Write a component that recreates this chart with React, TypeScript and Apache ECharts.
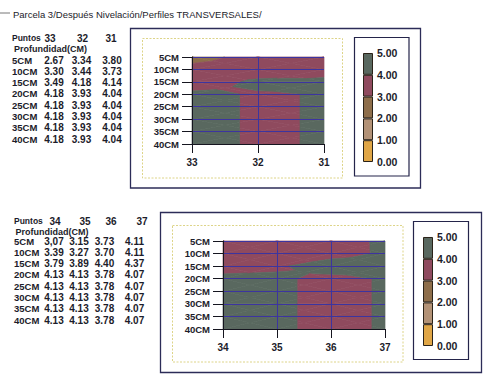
import React, { useEffect, useRef } from 'react';
import * as echarts from 'echarts';

const TITLE = 'Parcela 3/Después Nivelación/Perfiles TRANSVERSALES/';
const DEPTHS = [5, 10, 15, 20, 25, 30, 35, 40];
const TOP_POINTS = [33, 32, 31];
const TOP_VALUES = [
  [2.67, 3.34, 3.8],
  [3.3, 3.44, 3.73],
  [3.49, 4.18, 4.14],
  [4.18, 3.93, 4.04],
  [4.18, 3.93, 4.04],
  [4.18, 3.93, 4.04],
  [4.18, 3.93, 4.04],
  [4.18, 3.93, 4.04],
];
const BOTTOM_POINTS = [34, 35, 36, 37];
const BOTTOM_VALUES = [
  [3.07, 3.15, 3.73, 4.11],
  [3.39, 3.27, 3.7, 4.11],
  [3.79, 3.89, 4.4, 4.37],
  [4.13, 4.13, 3.78, 4.07],
  [4.13, 4.13, 3.78, 4.07],
  [4.13, 4.13, 3.78, 4.07],
  [4.13, 4.13, 3.78, 4.07],
  [4.13, 4.13, 3.78, 4.07],
];
const LEVELS = [0, 1, 2, 3, 4, 5];
const BAND_COLORS = ['#e0a646', '#b39276', '#8e6e4a', '#8f4a5e', '#59685f'];

const INK = '#1c1c2a';
const FONT = '"Liberation Sans", Arial, sans-serif';

type V = [number, number, number];

function clip(poly: V[], f: (v: number) => number): V[] {
  const out: V[] = [];
  for (let i = 0; i < poly.length; i++) {
    const a = poly[i];
    const b = poly[(i + 1) % poly.length];
    const fa = f(a[2]);
    const fb = f(b[2]);
    if (fa >= 0) out.push(a);
    if ((fa >= 0) !== (fb >= 0)) {
      const t = fa / (fa - fb);
      out.push([a[0] + (b[0] - a[0]) * t, a[1] + (b[1] - a[1]) * t, a[2] + (b[2] - a[2]) * t]);
    }
  }
  return out;
}

function buildCells(points: number[], values: number[][]) {
  const cells: number[][] = [];
  for (let j = 0; j < DEPTHS.length - 1; j++) {
    for (let i = 0; i < points.length - 1; i++) {
      cells.push([
        points[i], points[i + 1], DEPTHS[j], DEPTHS[j + 1],
        values[j][i], values[j][i + 1], values[j + 1][i], values[j + 1][i + 1],
      ]);
    }
  }
  return cells;
}

const renderCell = (_params: any, api: any) => {
  const x0 = api.value(0), x1 = api.value(1), y0 = api.value(2), y1 = api.value(3);
  const v00 = api.value(4), v10 = api.value(5), v01 = api.value(6), v11 = api.value(7);
  const p00 = api.coord([x0, y0]);
  const p10 = api.coord([x1, y0]);
  const p01 = api.coord([x0, y1]);
  const p11 = api.coord([x1, y1]);
  const A: V = [p00[0], p00[1], v00];
  const B: V = [p10[0], p10[1], v10];
  const D: V = [p11[0], p11[1], v11];
  const E: V = [p01[0], p01[1], v01];
  const C: V = [
    (A[0] + B[0] + D[0] + E[0]) / 4,
    (A[1] + B[1] + D[1] + E[1]) / 4,
    (v00 + v10 + v01 + v11) / 4,
  ];
  const tris: V[][] = [[A, B, C], [B, D, C], [D, E, C], [E, A, C]];
  const children: any[] = [];
  const nb = LEVELS.length - 1;
  for (const tri of tris) {
    for (let k = 0; k < nb; k++) {
      const lo = k === 0 ? -Infinity : LEVELS[k];
      const hi = k === nb - 1 ? Infinity : LEVELS[k + 1];
      let poly = clip(tri, (v) => v - lo);
      if (poly.length >= 3) poly = clip(poly, (v) => hi - v);
      if (poly.length >= 3) {
        children.push({
          type: 'polygon',
          shape: { points: poly.map((p) => [p[0], p[1]]) },
          style: { fill: BAND_COLORS[k], stroke: BAND_COLORS[k], lineWidth: 0.7 },
        });
      }
    }
  }
  return { type: 'group', children };
};

function txt(text: string, x: number, y: number, align: string, size = 9.5, weight = 'bold') {
  return {
    type: 'text',
    x,
    y,
    silent: true,
    style: {
      text,
      font: `${weight} ${size}px ${FONT}`,
      fill: INK,
      align,
      textAlign: align,
      verticalAlign: 'middle',
      textVerticalAlign: 'middle',
    },
  };
}

function box(x: number, y: number, w: number, h: number, stroke: string, lw: number, dash?: number[]) {
  return {
    type: 'rect',
    silent: true,
    shape: { x, y, width: w, height: h },
    style: { fill: 'none', stroke, lineWidth: lw, lineDash: dash },
  };
}

function tableGraphics(
  points: number[], values: number[][], headY: number, headX: number[], valX: number[],
  rowX: number, profX: number, row0: number, fmt: (v: number, r: number, c: number) => string,
) {
  const els: any[] = [];
  els.push(txt('Puntos', rowX, headY, 'left', 8.5));
  points.forEach((p, i) => els.push(txt(String(p), headX[i], headY, 'center', 10)));
  els.push(txt('Profundidad(CM)', profX, headY + 10.5, 'left', 9));
  DEPTHS.forEach((d, r) => {
    const y = row0 + r * 11.3;
    els.push(txt(d + 'CM', rowX, y, 'left', 9.5));
    values[r].forEach((v, c) => els.push(txt(fmt(v, r, c), valX[c], y, 'center', 10)));
  });
  return els;
}

function mapAxes(gi: number, min: number, max: number, inverse: boolean) {
  const line = { color: '#15151f', width: 1 };
  const grid = { color: '#3c34a0', width: 1 };
  const x = {
    type: 'value', gridIndex: gi, min, max, interval: 1, inverse, z: 3,
    axisLine: { show: true, onZero: false, lineStyle: line },
    axisTick: { show: true, length: 9, lineStyle: line },
    axisLabel: { margin: 13, fontSize: 10, fontWeight: 'bold', fontFamily: FONT, color: INK },
    splitLine: { show: true, showMinLine: false, showMaxLine: false, lineStyle: grid },
  };
  const y = {
    type: 'value', gridIndex: gi, min: 5, max: 40, interval: 5, inverse: true, z: 3,
    axisLine: { show: true, onZero: false, lineStyle: line },
    axisTick: { show: true, length: 10, lineStyle: line },
    axisLabel: {
      margin: 13, fontSize: 9.5, fontWeight: 'bold', fontFamily: FONT, color: INK,
      formatter: (v: number) => v + 'CM',
    },
    splitLine: { show: true, lineStyle: grid },
  };
  return { x, y };
}

function legendAxes(gi: number) {
  const x = { type: 'category', gridIndex: gi, data: [''], show: false };
  const y = {
    type: 'value', gridIndex: gi, min: LEVELS[0], max: LEVELS[LEVELS.length - 1], interval: 1,
    position: 'right',
    axisLine: { show: false }, axisTick: { show: false }, splitLine: { show: false },
    axisLabel: {
      margin: 4, fontSize: 10.5, fontWeight: 'bold', fontFamily: FONT, color: INK,
      formatter: (v: number) => v.toFixed(2),
    },
  };
  return { x, y };
}

function legendSeries(gi: number) {
  return BAND_COLORS.map((c, k) => ({
    type: 'bar', xAxisIndex: gi, yAxisIndex: gi, stack: 'legend' + gi, silent: true,
    barWidth: '100%', data: [LEVELS[k + 1] - LEVELS[k]],
    itemStyle: { color: c, borderColor: '#2a2218', borderWidth: 1 },
  }));
}

export default function App() {
  const ref = useRef<HTMLDivElement>(null);
  useEffect(() => {
    if (!ref.current) return;
    const chart = echarts.init(ref.current, null, { renderer: 'svg' });
    const a0 = mapAxes(0, 31, 33, true);
    const a1 = mapAxes(1, 34, 37, false);
    const l2 = legendAxes(2);
    const l3 = legendAxes(3);
    const option: any = {
      animation: false,
      backgroundColor: '#ffffff',
      grid: [
        { left: 192, top: 57, width: 132, height: 87 },
        { left: 223, top: 241, width: 162, height: 88 },
        { left: 363, top: 53, width: 10, height: 109 },
        { left: 423, top: 237, width: 10, height: 109 },
      ],
      xAxis: [a0.x, a1.x, l2.x, l3.x],
      yAxis: [a0.y, a1.y, l2.y, l3.y],
      series: [
        {
          type: 'custom', xAxisIndex: 0, yAxisIndex: 0, z: 1, silent: true,
          data: buildCells(TOP_POINTS, TOP_VALUES), encode: { x: [0, 1], y: [2, 3] },
          renderItem: renderCell,
        },
        {
          type: 'custom', xAxisIndex: 1, yAxisIndex: 1, z: 1, silent: true,
          data: buildCells(BOTTOM_POINTS, BOTTOM_VALUES), encode: { x: [0, 1], y: [2, 3] },
          renderItem: renderCell,
        },
        ...legendSeries(2),
        ...legendSeries(3),
      ],
      graphic: [
        txt(TITLE, 13, 14, 'left', 9.5, 'normal'),
        { type: 'line', silent: true, shape: { x1: 0, y1: 13, x2: 10, y2: 13 }, style: { stroke: '#777', lineWidth: 1 } },
        box(130.5, 28.5, 290, 159.5, '#2c2c58', 1.3),
        box(142.5, 38.5, 200, 139.5, '#ddd488', 1, [2, 1.5]),
        box(354.5, 37.5, 54.5, 138.5, '#24244a', 1.2),
        box(160.5, 212.5, 321, 160, '#2c2c58', 1.3),
        box(172.5, 225.5, 230.5, 136.5, '#ddd488', 1, [2, 1.5]),
        box(413.5, 221.5, 55, 138, '#24244a', 1.2),
        ...tableGraphics(TOP_POINTS, TOP_VALUES, 38, [50, 82.5, 111], [54, 81.5, 112], 12, 14, 60,
          (v) => v.toFixed(2)),
        ...tableGraphics(BOTTOM_POINTS, BOTTOM_VALUES, 221, [55, 85, 111, 142], [54, 79, 104.5, 134.5], 14, 15.5, 241,
          (v, r, c) => (r === 0 && c === 0 ? v.toFixed(2).replace('.', ',') : v.toFixed(2))),
      ],
    };
    chart.setOption(option);
    return () => chart.dispose();
  }, []);
  return (
    <div
      ref={ref}
      style={{ position: 'fixed', left: 0, top: 0, width: 492, height: 384 }}
    />
  );
}
